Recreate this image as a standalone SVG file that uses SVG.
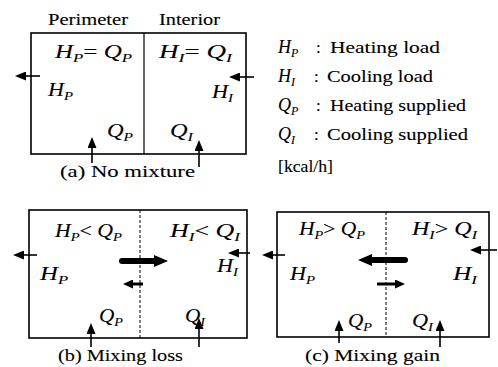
<svg xmlns="http://www.w3.org/2000/svg" width="498" height="367" viewBox="0 0 498 367">
<style>
text{font-family:"Liberation Serif","Times New Roman",serif;fill:#000;stroke:#000;stroke-width:0.12}
.r{font-size:17px}
.m{font-size:18px;font-style:italic}
.s{font-size:12px;font-style:italic}
.box{fill:none;stroke:#000;stroke-width:1.6}
.div{stroke:#000;stroke-width:1.2}
.dash{stroke:#000;stroke-width:1;stroke-dasharray:3 2}
.ar{stroke:#000;stroke-width:1.6;fill:none;marker-end:url(#ah)}
.ar2{stroke:#000;stroke-width:3;fill:none;marker-end:url(#ahm)}
.ar3{stroke:#000;stroke-width:6;fill:none;stroke-linecap:round;marker-end:url(#ahb)}
</style>
<defs>
<marker id="ah" markerUnits="userSpaceOnUse" markerWidth="11" markerHeight="9" refX="0" refY="4.5" orient="auto"><path d="M0,0 L11,4.5 L0,9 z" fill="#000"/></marker>
<marker id="ahm" markerUnits="userSpaceOnUse" markerWidth="10" markerHeight="9" refX="0" refY="4.5" orient="auto"><path d="M0,0 L10,4.5 L0,9 z" fill="#000"/></marker>
<marker id="ahb" markerUnits="userSpaceOnUse" markerWidth="14" markerHeight="12" refX="0" refY="6" orient="auto"><path d="M0,0 L14,6 L0,12 z" fill="#000"/></marker>
</defs>

<g id="panel-a">
<text class="r" x="48" y="25" textLength="80" lengthAdjust="spacingAndGlyphs">Perimeter</text>
<text class="r" x="159" y="25" textLength="61" lengthAdjust="spacingAndGlyphs">Interior</text>
<rect class="box" x="31" y="33" width="215" height="121"/>
<line class="div" x1="144" y1="33" x2="144" y2="154"/>
<text class="m" x="55" y="58" textLength="77" lengthAdjust="spacingAndGlyphs">H<tspan class="s" dy="4">P</tspan><tspan dy="-4" font-style="normal">= </tspan>Q<tspan class="s" dy="4">P</tspan></text>
<text class="m" x="159" y="58" textLength="73" lengthAdjust="spacingAndGlyphs">H<tspan class="s" dy="4">I</tspan><tspan dy="-4" font-style="normal">= </tspan>Q<tspan class="s" dy="4">I</tspan></text>
<text class="m" x="48" y="96" textLength="25" lengthAdjust="spacingAndGlyphs">H<tspan class="s" dy="4">P</tspan></text>
<text class="m" x="212" y="98" textLength="21" lengthAdjust="spacingAndGlyphs">H<tspan class="s" dy="4">I</tspan></text>
<text class="m" x="107" y="137" textLength="26" lengthAdjust="spacingAndGlyphs">Q<tspan class="s" dy="4">P</tspan></text>
<text class="m" x="170" y="137" textLength="23" lengthAdjust="spacingAndGlyphs">Q<tspan class="s" dy="4">I</tspan></text>
<text class="r" x="60" y="177" textLength="135" lengthAdjust="spacingAndGlyphs">(a) No mixture</text>
</g>

<g id="legend">
<text class="m" x="278" y="53">H<tspan class="s" dy="4">P</tspan></text>
<text class="r" x="316" y="53">:</text>
<text class="r" x="330" y="53" textLength="110" lengthAdjust="spacingAndGlyphs">Heating load</text>
<text class="m" x="278" y="82">H<tspan class="s" dy="4">I</tspan></text>
<text class="r" x="314" y="82">:</text>
<text class="r" x="327" y="82" textLength="106" lengthAdjust="spacingAndGlyphs">Cooling load</text>
<text class="m" x="278" y="111">Q<tspan class="s" dy="4">P</tspan></text>
<text class="r" x="316" y="111">:</text>
<text class="r" x="330" y="111" textLength="136" lengthAdjust="spacingAndGlyphs">Heating supplied</text>
<text class="m" x="278" y="140">Q<tspan class="s" dy="4">I</tspan></text>
<text class="r" x="314" y="140">:</text>
<text class="r" x="327" y="140" textLength="141" lengthAdjust="spacingAndGlyphs">Cooling supplied</text>
<text class="r" x="278" y="172" textLength="55" lengthAdjust="spacingAndGlyphs">[kcal/h]</text>
</g>

<g id="panel-b">
<rect class="box" x="29" y="210" width="218" height="128"/>
<line class="dash" x1="140" y1="210" x2="140" y2="338"/>
<text class="m" x="55" y="237" textLength="67" lengthAdjust="spacingAndGlyphs">H<tspan class="s" dy="4">P</tspan><tspan dy="-4" font-style="normal">&lt; </tspan>Q<tspan class="s" dy="4">P</tspan></text>
<text class="m" x="170" y="237" textLength="70" lengthAdjust="spacingAndGlyphs">H<tspan class="s" dy="4">I</tspan><tspan dy="-4" font-style="normal">&lt; </tspan>Q<tspan class="s" dy="4">I</tspan></text>
<text class="m" x="40" y="280" textLength="28" lengthAdjust="spacingAndGlyphs">H<tspan class="s" dy="4">P</tspan></text>
<text class="m" x="217" y="272" textLength="21" lengthAdjust="spacingAndGlyphs">H<tspan class="s" dy="4">I</tspan></text>
<text class="m" x="99" y="322" textLength="24" lengthAdjust="spacingAndGlyphs">Q<tspan class="s" dy="4">P</tspan></text>
<text class="m" x="185" y="322" textLength="20" lengthAdjust="spacingAndGlyphs">Q<tspan class="s" dy="4">I</tspan></text>
<text class="r" x="58" y="361" textLength="125" lengthAdjust="spacingAndGlyphs">(b) Mixing loss</text>
</g>

<g id="panel-c">
<rect class="box" x="277" y="212" width="212" height="125"/>
<line class="dash" x1="386" y1="212" x2="386" y2="337"/>
<text class="m" x="299" y="235" textLength="66" lengthAdjust="spacingAndGlyphs">H<tspan class="s" dy="4">P</tspan><tspan dy="-4" font-style="normal">&gt; </tspan>Q<tspan class="s" dy="4">P</tspan></text>
<text class="m" x="412" y="235" textLength="65" lengthAdjust="spacingAndGlyphs">H<tspan class="s" dy="4">I</tspan><tspan dy="-4" font-style="normal">&gt; </tspan>Q<tspan class="s" dy="4">I</tspan></text>
<text class="m" x="290" y="280" textLength="25" lengthAdjust="spacingAndGlyphs">H<tspan class="s" dy="4">P</tspan></text>
<text class="m" x="453" y="280" textLength="24" lengthAdjust="spacingAndGlyphs">H<tspan class="s" dy="4">I</tspan></text>
<text class="m" x="348" y="327" textLength="24" lengthAdjust="spacingAndGlyphs">Q<tspan class="s" dy="4">P</tspan></text>
<text class="m" x="412" y="327" textLength="21" lengthAdjust="spacingAndGlyphs">Q<tspan class="s" dy="4">I</tspan></text>
<text class="r" x="305" y="361" textLength="135" lengthAdjust="spacingAndGlyphs">(c) Mixing gain</text>
</g>

<g id="connectors">
<line class="ar" x1="40" y1="76" x2="26" y2="76"/>
<line class="ar" x1="254" y1="77" x2="240" y2="77"/>
<line class="ar" x1="92" y1="163" x2="92" y2="148"/>
<line class="ar" x1="199" y1="167" x2="199" y2="151"/>

<line class="ar" x1="37" y1="255" x2="24" y2="255"/>
<line class="ar" x1="250" y1="253" x2="239" y2="253"/>
<line class="ar3" x1="122" y1="261" x2="154" y2="261"/>
<line class="ar2" x1="143" y1="284" x2="133" y2="284"/>
<line class="ar" x1="91" y1="347" x2="91" y2="334"/>
<line class="ar" x1="199" y1="347" x2="199" y2="329"/>

<line class="ar" x1="285" y1="255" x2="273" y2="255"/>
<line class="ar" x1="497" y1="250" x2="481" y2="250"/>
<line class="ar3" x1="405" y1="260" x2="372" y2="260"/>
<line class="ar2" x1="377" y1="284" x2="395" y2="284"/>
<line class="ar" x1="339" y1="343" x2="339" y2="331"/>
<line class="ar" x1="440" y1="347" x2="440" y2="331"/>
</g>
</svg>
